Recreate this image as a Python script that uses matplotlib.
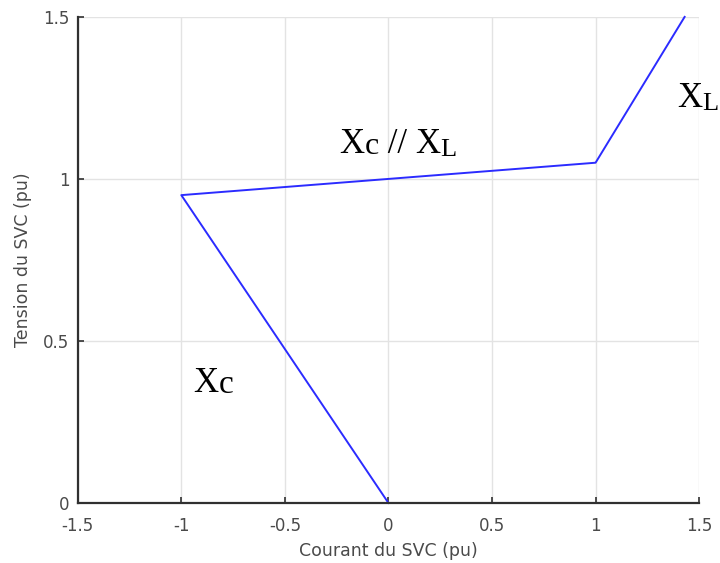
import matplotlib
matplotlib.use("Agg")
import matplotlib.pyplot as plt

# V-I characteristic of the SVC
courant = [0.0, -1.0, 1.0, 1.43]
tension = [0.0, 0.95, 1.05, 1.5]

x_ticks = [-1.5, -1, -0.5, 0, 0.5, 1, 1.5]
y_ticks = [0, 0.5, 1, 1.5]

fig = plt.figure(figsize=(7.2, 5.63), dpi=100)
ax = fig.add_axes([0.108, 0.1066, 0.863, 0.8634])

ax.plot(courant, tension, color="#2b2bff", linewidth=1.4, clip_on=False)

ax.set_xlim(-1.5, 1.5)
ax.set_ylim(0, 1.5)
ax.set_xticks(x_ticks)
ax.set_xticklabels(["-1.5", "-1", "-0.5", "0", "0.5", "1", "1.5"])
ax.set_yticks(y_ticks)
ax.set_yticklabels(["0", "0.5", "1", "1.5"])
ax.grid(True, color="#e3e3e3", linewidth=1)
ax.set_axisbelow(True)

for s in ["top", "right"]:
    ax.spines[s].set_visible(False)
for s in ["left", "bottom"]:
    ax.spines[s].set_color("#303030")
    ax.spines[s].set_linewidth(1.6)

ax.tick_params(direction="in", length=4, width=1.2, color="#303030",
               labelsize=12, labelcolor="#4a4a4a")
ax.tick_params(axis="x", pad=10)
ax.tick_params(axis="y", pad=6)
for lab in ax.get_xticklabels() + ax.get_yticklabels():
    lab.set_family("DejaVu Sans")

ax.set_xlabel("Courant du SVC (pu)", fontsize=12.5, color="#4a4a4a",
              family="DejaVu Sans", labelpad=5)
ax.set_ylabel("Tension du SVC (pu)", fontsize=12.5, color="#4a4a4a",
              family="DejaVu Sans", labelpad=8)

big = 25
small = 19


def region_label(x, y, main, sub, sub_size):
    t = ax.text(x, y, main, fontsize=big, family="Liberation Serif",
                ha="left", va="baseline", clip_on=False)
    ax.annotate(sub, xy=(1, 0), xycoords=t, fontsize=sub_size,
                family="Liberation Serif", ha="left", va="bottom",
                annotation_clip=False)


region_label(-0.94, 0.343, "X", "c", 24)
region_label(1.393, 1.222, "X", "L", small)
t1 = ax.text(-0.237, 1.08, "X", fontsize=big, family="Liberation Serif",
             ha="left", va="baseline")
t2 = ax.annotate("c", xy=(1, 0), xycoords=t1, fontsize=23,
                 family="Liberation Serif", ha="left", va="bottom")
t3 = ax.annotate(" // ", xy=(1, 0), xycoords=t2, fontsize=big,
                 family="Liberation Serif", ha="left", va="bottom")
t4 = ax.annotate("X", xy=(1, 0), xycoords=t3, fontsize=big,
                 family="Liberation Serif", ha="left", va="bottom")
ax.annotate("L", xy=(1, 0), xycoords=t4, fontsize=small,
            family="Liberation Serif", ha="left", va="bottom")

fig.savefig("out.png", dpi=100)
